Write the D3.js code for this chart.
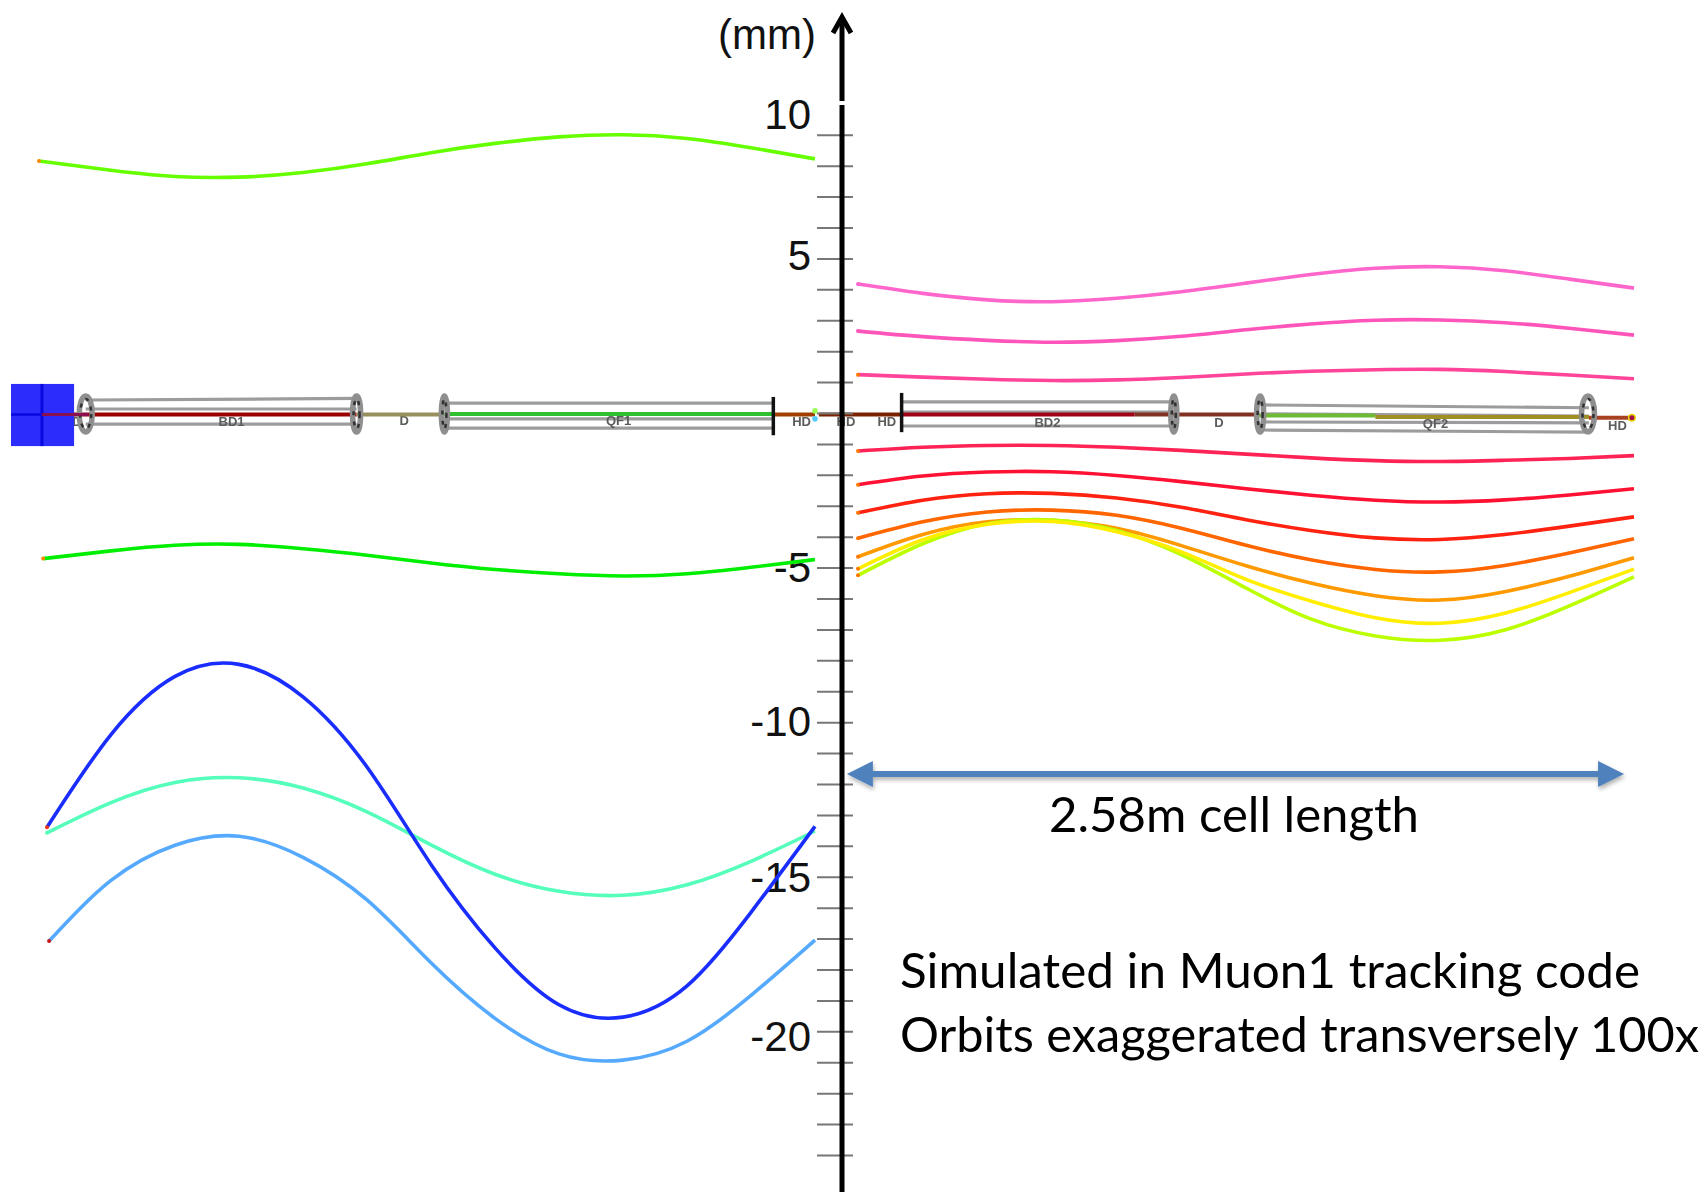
<!DOCTYPE html>
<html>
<head>
<meta charset="utf-8">
<script src="https://cdn.jsdelivr.net/npm/d3@7"></script>
<style>
  html, body { margin: 0; background: #fff; }
  svg { display: block; }
  .num { font-family: "Liberation Sans", Arial, sans-serif; font-size: 42px; fill: #111; }
  .note { font-family: Lato, "Open Sans", sans-serif; font-size: 48px; fill: #000; }
  .tag { font-family: "Liberation Sans", Arial, sans-serif; font-size: 13px; font-weight: bold; fill: #5c5c5c; text-anchor: middle; }
</style>
</head>
<body>
<script>
// ==========================================
// 1. DATA (metres along the cell, mm from the beam axis)
// ==========================================

const stations = [0, 0.215, 0.43, 0.645, 0.86, 1.075, 1.29, 1.505, 1.72, 1.935, 2.15, 2.365, 2.58];

// left hand cell
const greenHigh = [8.15, 7.85, 7.65, 7.63, 7.78, 8.06, 8.42, 8.72, 8.93, 9.00, 8.88, 8.58, 8.22];
const greenLow = [-4.71, -4.46, -4.28, -4.25, -4.39, -4.60, -4.85, -5.06, -5.20, -5.27, -5.20, -4.99, -4.74];
const deepBlue = [-13.40, -10.40, -8.52, -8.13, -9.18, -11.45, -14.60, -17.30, -19.14, -19.54, -18.53, -16.15, -13.37];
const aqua = [-13.58, -12.60, -11.95, -11.80, -12.13, -12.90, -13.97, -14.92, -15.47, -15.60, -15.26, -14.50, -13.52];
const skyBlue = [-17.08, -15.12, -13.98, -13.69, -14.37, -15.75, -17.78, -19.58, -20.73, -20.93, -20.32, -18.84, -17.05];

// right hand cell
const magenta1 = [4.17, 3.87, 3.66, 3.60, 3.71, 3.92, 4.20, 4.48, 4.68, 4.73, 4.60, 4.33, 4.04];
const magenta2 = [2.65, 2.47, 2.35, 2.29, 2.34, 2.48, 2.69, 2.88, 3.00, 3.01, 2.92, 2.74, 2.52];
const rose = [1.24, 1.16, 1.09, 1.05, 1.07, 1.15, 1.26, 1.35, 1.40, 1.41, 1.34, 1.23, 1.11];
const crimson = [-1.23, -1.11, -1.05, -1.05, -1.11, -1.21, -1.33, -1.45, -1.54, -1.57, -1.53, -1.47, -1.38];
const red1 = [-2.32, -2.04, -1.91, -1.90, -2.02, -2.22, -2.45, -2.66, -2.82, -2.88, -2.81, -2.65, -2.45];
const red2 = [-3.23, -2.82, -2.61, -2.60, -2.75, -3.05, -3.45, -3.80, -4.04, -4.09, -3.93, -3.66, -3.36];
const orange1 = [-4.05, -3.52, -3.20, -3.14, -3.31, -3.73, -4.28, -4.75, -5.06, -5.14, -4.93, -4.53, -4.07];
const orange2 = [-4.65, -3.93, -3.52, -3.47, -3.73, -4.29, -4.94, -5.50, -5.91, -6.05, -5.78, -5.28, -4.68];
const yellow = [-5.04, -4.10, -3.60, -3.51, -3.84, -4.49, -5.38, -6.08, -6.62, -6.80, -6.48, -5.81, -5.05];
const lime = [-5.25, -4.23, -3.58, -3.46, -3.80, -4.58, -5.66, -6.66, -7.21, -7.35, -7.02, -6.24, -5.30];

const leftOrbits = [
  {values: greenHigh, color: "#66ff00", start: -0.027, dot: "#ff8800"},
  {values: greenLow, color: "#00ee00", start: -0.013, dot: "#ff8800"},
  {values: skyBlue, color: "#55aaff", start: 0.007, dot: "#cc1111"},
  {values: aqua, color: "#55ffbb", start: 0, dot: "#55ffbb"},
  {values: deepBlue, color: "#1a2dff", start: 0, dot: "#ee3311"}
];
const rightOrbits = [
  {values: magenta1, color: "#ff66cc", start: 0, dot: "#ff66cc"},
  {values: magenta2, color: "#ff55bb", start: 0, dot: "#ff55bb"},
  {values: rose, color: "#ff4499", start: 0, dot: "#ff7700"},
  {values: crimson, color: "#ff2255", start: 0, dot: "#ff7700"},
  {values: red1, color: "#ff1133", start: 0, dot: "#ff7700"},
  {values: red2, color: "#ff2211", start: 0, dot: "#ff7700"},
  {values: orange1, color: "#ff6600", start: 0, dot: "#ff7700"},
  {values: orange2, color: "#ff9900", start: 0, dot: "#ff7700"},
  {values: lime, color: "#bbff00", start: 0, dot: "#ff7700"},
  {values: yellow, color: "#ffee00", start: 0, dot: "#ff7700"}
];

// axis
const minorTicks = d3.range(-24, 10);
const tickLabels = [10, 5, -5, -10, -15, -20];

// beamline sketch: [s0, s1, mm0, mm1]
const leftRails = [
  [0.13, 1.04, 0.42, 0.47], [0.13, 1.04, 0.13, 0.13], [0.13, 1.04, -0.36, -0.36],
  [1.335, 2.44, 0.32, 0.32], [1.335, 2.44, -0.19, -0.19], [1.335, 2.44, -0.49, -0.49]
];
const rightRails = [
  [0.14, 1.05, 0.36, 0.36], [0.14, 1.05, 0.03, 0.03], [0.14, 1.05, -0.42, -0.42],
  [1.34, 2.43, 0.26, 0.17], [1.34, 2.43, -0.03, -0.10], [1.34, 2.43, -0.29, -0.32], [1.34, 2.43, -0.55, -0.62]
];
// [s0, s1, mm, colour]
const leftBeam = [
  [-0.02, 0.05, -0.05, "#8a2050"], [0.05, 1.04, -0.05, "#9b0000"], [1.04, 1.335, -0.05, "#98905c"],
  [1.335, 2.44, -0.03, "#2fc02f"], [2.44, 2.58, -0.05, "#a04000"]
];
const rightBeam = [
  [-0.13, 0.14, -0.05, "#7a2000"], [0.14, 0.92, -0.05, "#a00018"], [0.92, 1.335, -0.05, "#803020"],
  [1.335, 1.72, -0.08, "#6cbb30"], [1.72, 2.43, -0.13, "#a09020"], [2.43, 2.575, -0.15, "#a84020"]
];
const leftCaps = [[0.13, 8.5], [1.04, 6], [1.335, 5]];
const rightCaps = [[1.05, 5], [1.337, 5.5], [2.427, 8.5]];
const leftBars = [2.44];
const rightBars = [0.145];
const leftTags = [["HD", 0.085, -0.29], ["BD1", 0.62, -0.29], ["D", 1.2, -0.25], ["QF1", 1.92, -0.25], ["HD", 2.535, -0.29]];
const rightTags = [["HD", -0.04, -0.29], ["HD", 0.096, -0.29], ["BD2", 0.63, -0.32], ["D", 1.2, -0.32], ["QF2", 1.92, -0.36], ["HD", 2.525, -0.42]];

// ==========================================
// 2. SETUP
// ==========================================

const width = 1707;
const height = 1192;
const axisX = 842;

const svg = d3.select("body").append("svg")
    .attr("width", width)
    .attr("height", height);

const yScale = d3.scaleLinear().domain([0, -24]).range([413, 1155]);
const xLeft = d3.scaleLinear().domain([0, 2.58]).range([47, 815]);
const xRight = d3.scaleLinear().domain([0, 2.58]).range([858, 1634]);

const defs = svg.append("defs");
const shadow = defs.append("filter").attr("id", "shadow")
    .attr("x", "-5%").attr("y", "-50%").attr("width", "110%").attr("height", "250%");
shadow.append("feDropShadow")
    .attr("dx", 1).attr("dy", 3).attr("stdDeviation", 2)
    .attr("flood-color", "#000").attr("flood-opacity", 0.3);

// the sketch is a blown up screenshot in the original, so soften it a bit
defs.append("filter").attr("id", "soft")
    .append("feGaussianBlur").attr("stdDeviation", 0.5);

// ==========================================
// 3. BEAMLINE SKETCH
// ==========================================

function drawBeamline(x, rails, beam, caps, tags) {
    const g = svg.append("g").attr("filter", "url(#soft)");

    g.selectAll(".rail").data(rails).enter().append("line")
        .attr("x1", d => x(d[0])).attr("x2", d => x(d[1]))
        .attr("y1", d => yScale(d[2])).attr("y2", d => yScale(d[3]))
        .attr("stroke", "#9c9c9c").attr("stroke-width", 3.2);

    g.selectAll(".tag").data(tags).enter().append("text")
        .attr("class", "tag")
        .attr("x", d => x(d[1]))
        .attr("y", d => yScale(d[2]) + 4)
        .text(d => d[0]);

    g.selectAll(".beam").data(beam).enter().append("line")
        .attr("x1", d => x(d[0])).attr("x2", d => x(d[1]))
        .attr("y1", d => yScale(d[2])).attr("y2", d => yScale(d[2]))
        .attr("stroke", d => d[3]).attr("stroke-width", 4);

    const cap = g.selectAll(".cap").data(caps).enter().append("g");
    cap.append("ellipse")
        .attr("cx", d => x(d[0])).attr("cy", yScale(-0.03))
        .attr("rx", d => d[1] - 2).attr("ry", 18)
        .attr("fill", "none").attr("stroke", "#8f8f8f").attr("stroke-width", 5.5);
    cap.append("ellipse")
        .attr("cx", d => x(d[0])).attr("cy", yScale(-0.03))
        .attr("rx", d => d[1] - 3).attr("ry", 15)
        .attr("fill", "none").attr("stroke", "#333").attr("stroke-width", 2.5)
        .attr("stroke-dasharray", "4 6");
}

drawBeamline(xLeft, leftRails, leftBeam, leftCaps, leftTags);
drawBeamline(xRight, rightRails, rightBeam, rightCaps, rightTags);

// black end bars of the quads / dipoles
svg.selectAll(".barL").data(leftBars).enter().append("line")
    .attr("x1", d => xLeft(d)).attr("x2", d => xLeft(d))
    .attr("y1", yScale(0.52)).attr("y2", yScale(-0.72))
    .attr("stroke", "#111").attr("stroke-width", 3.5);
svg.selectAll(".barR").data(rightBars).enter().append("line")
    .attr("x1", d => xRight(d)).attr("x2", d => xRight(d))
    .attr("y1", yScale(0.65)).attr("y2", yScale(-0.62))
    .attr("stroke", "#111").attr("stroke-width", 3.5);

// blue view cube at the start of the line
const cube = svg.append("g");
cube.append("rect")
    .attr("x", xLeft(-0.121)).attr("y", yScale(0.94))
    .attr("width", xLeft(0.091) - xLeft(-0.121))
    .attr("height", yScale(-1.07) - yScale(0.94))
    .attr("fill", "#2d2dfb");
cube.append("line")
    .attr("x1", xLeft(-0.017)).attr("x2", xLeft(-0.017))
    .attr("y1", yScale(0.94)).attr("y2", yScale(-1.07))
    .attr("stroke", "#0808e0").attr("stroke-width", 3);
cube.append("line")
    .attr("x1", xLeft(-0.121)).attr("x2", xLeft(0.03))
    .attr("y1", yScale(-0.05)).attr("y2", yScale(-0.05))
    .attr("stroke", "#0808e0").attr("stroke-width", 2.5);
cube.append("line")
    .attr("x1", xLeft(-0.017)).attr("x2", xLeft(0.14))
    .attr("y1", yScale(-0.05)).attr("y2", yScale(-0.05))
    .attr("stroke", "#8a1050").attr("stroke-width", 3);

// end of the right hand cell and the two stray markers by the axis
svg.append("circle").attr("cx", xRight(2.573)).attr("cy", yScale(-0.15)).attr("r", 4).attr("fill", "#e8d800");
svg.append("circle").attr("cx", xRight(2.573)).attr("cy", yScale(-0.15)).attr("r", 2.5).attr("fill", "#a01040");
svg.append("circle").attr("cx", xLeft(2.58)).attr("cy", yScale(0.07)).attr("r", 2.8).attr("fill", "#99ff55");
svg.append("circle").attr("cx", xLeft(2.58)).attr("cy", yScale(-0.19)).attr("r", 2.8).attr("fill", "#55ccff");

// ==========================================
// 4. AXIS
// ==========================================

const tickAxis = d3.axisLeft(yScale)
    .tickValues(minorTicks)
    .tickSize(25)
    .tickFormat("");
const tickGroup = svg.append("g")
    .attr("transform", `translate(${axisX}, 0)`)
    .call(tickAxis);
tickGroup.select(".domain").remove();
tickGroup.selectAll("line")
    .attr("x1", 11)
    .attr("stroke", "#777")
    .attr("stroke-width", 2);

const labelNudge = [11, -2, 0, 0, 1, 6];
const labelAxis = d3.axisLeft(yScale)
    .tickValues(tickLabels)
    .tickSize(0)
    .tickPadding(31)
    .tickFormat(d => String(d)); // plain hyphen, as in the original
const labelGroup = svg.append("g")
    .attr("transform", `translate(${axisX}, 0)`)
    .call(labelAxis);
labelGroup.select(".domain").remove();
labelGroup.selectAll("text")
    .attr("class", "num")
    .attr("y", (d, i) => labelNudge[i]);
labelGroup.attr("font-size", null).attr("font-family", null);

svg.append("text").attr("class", "num")
    .attr("x", 816).attr("y", 49)
    .attr("text-anchor", "end")
    .text("(mm)");

// spine, broken just under the 10 label, plus the open arrow head
svg.append("line").attr("x1", axisX).attr("x2", axisX).attr("y1", 18).attr("y2", 101)
    .attr("stroke", "#000").attr("stroke-width", 5);
svg.append("line").attr("x1", axisX).attr("x2", axisX).attr("y1", 105).attr("y2", height)
    .attr("stroke", "#000").attr("stroke-width", 5);
svg.append("path")
    .attr("d", `M${axisX - 9},33 L${axisX},17 L${axisX + 9},33`)
    .attr("fill", "none").attr("stroke", "#000").attr("stroke-width", 5);

// ==========================================
// 5. ORBITS
// ==========================================

function drawOrbits(x, orbits) {
    const line = d3.line()
        .x(d => x(d.s))
        .y(d => yScale(d.mm))
        .curve(d3.curveNatural);

    orbits.forEach(o => {
        const pts = o.values.map((v, i) => ({s: i === 0 ? o.start : stations[i], mm: v}));
        svg.append("path")
            .attr("d", line(pts))
            .attr("fill", "none")
            .attr("stroke", o.color)
            .attr("stroke-width", 3.6);
        svg.append("circle")
            .attr("cx", x(pts[0].s))
            .attr("cy", yScale(pts[0].mm))
            .attr("r", 2)
            .attr("fill", o.dot);
    });
}

drawOrbits(xLeft, leftOrbits);
drawOrbits(xRight, rightOrbits);

// ==========================================
// 6. CELL LENGTH ARROW AND NOTES
// ==========================================

const arrowY = yScale(-11.68);
const arrowA = xRight(-0.037);
const arrowB = xRight(2.547);
svg.append("path")
    .attr("d", `M${arrowA},${arrowY} L${arrowA + 26},${arrowY - 13} L${arrowA + 26},${arrowY - 3}
                L${arrowB - 26},${arrowY - 3} L${arrowB - 26},${arrowY - 13} L${arrowB},${arrowY}
                L${arrowB - 26},${arrowY + 13} L${arrowB - 26},${arrowY + 3} L${arrowA + 26},${arrowY + 3}
                L${arrowA + 26},${arrowY + 13} Z`)
    .attr("fill", "#4f81bd")
    .attr("filter", "url(#shadow)");

const notes = [
    {text: "2.58m cell length", x: 1049, y: 832, w: 370},
    {text: "Simulated in Muon1 tracking code", x: 900, y: 988, w: 740},
    {text: "Orbits exaggerated transversely 100x", x: 900, y: 1052, w: 799}
];
svg.selectAll(".note").data(notes).enter().append("text")
    .attr("class", "note")
    .attr("x", d => d.x)
    .attr("y", d => d.y)
    .attr("textLength", d => d.w)
    .attr("lengthAdjust", "spacingAndGlyphs")
    .text(d => d.text);
</script>
</body>
</html>
